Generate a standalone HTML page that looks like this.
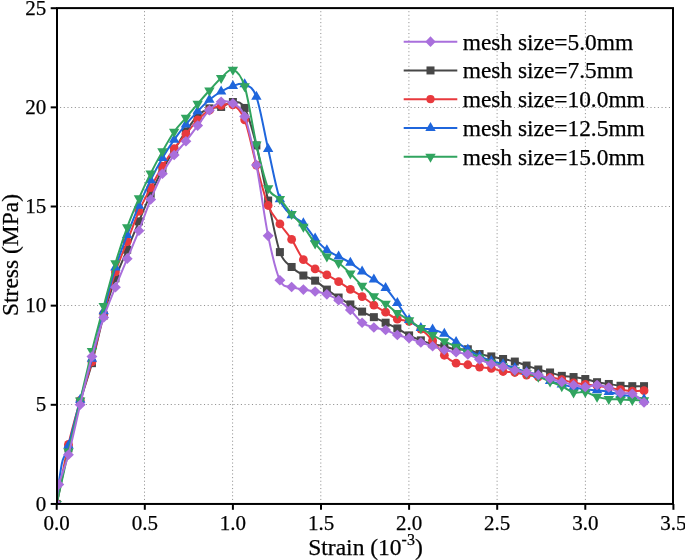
<!DOCTYPE html>
<html><head><meta charset="utf-8"><style>
html,body{margin:0;padding:0;background:#fff;}
svg{display:block;font-family:"Liberation Serif",serif;will-change:transform;}
text{stroke:#000;stroke-width:0.25px;}
</style></head><body>
<svg width="685" height="560" viewBox="0 0 685 560">
<defs><clipPath id="pa"><rect x="56.70" y="8.1" width="616.20" height="495.85"/></clipPath></defs>
<rect width="685" height="560" fill="#fff"/>
<g stroke="#939393" stroke-width="1" stroke-dasharray="1.1 2.55" fill="none">
<line x1="144.50" y1="500.00" x2="144.50" y2="9" stroke-dasharray="1.1 2.54"/>
<line x1="232.60" y1="500.00" x2="232.60" y2="9" stroke-dasharray="1.1 2.54"/>
<line x1="320.80" y1="500.00" x2="320.80" y2="9" stroke-dasharray="1.1 2.54"/>
<line x1="408.90" y1="500.00" x2="408.90" y2="9" stroke-dasharray="1.1 2.54"/>
<line x1="497.10" y1="500.00" x2="497.10" y2="9" stroke-dasharray="1.1 2.54"/>
<line x1="585.40" y1="500.00" x2="585.40" y2="9" stroke-dasharray="1.1 2.54"/>
<line x1="56.37" y1="107.50" x2="672" y2="107.50" stroke-dasharray="1.1 2.59"/>
<line x1="56.37" y1="206.50" x2="672" y2="206.50" stroke-dasharray="1.1 2.59"/>
<line x1="56.37" y1="305.50" x2="672" y2="305.50" stroke-dasharray="1.1 2.59"/>
<line x1="56.37" y1="404.50" x2="672" y2="404.50" stroke-dasharray="1.1 2.59"/>
</g>
<g fill="#000" font-size="23">
<line x1="403.7" y1="41.70" x2="457.3" y2="41.70" stroke="#a96fdc" stroke-width="2"/>
<path d="M430.50,36.35L435.70,41.70L430.50,47.05L425.30,41.70Z" fill="#a96fdc"/>
<text x="462.7" y="49.60" font-size="23.4">mesh size=5.0mm</text>
<line x1="403.7" y1="70.45" x2="457.3" y2="70.45" stroke="#474747" stroke-width="2"/>
<rect x="426.50" y="66.45" width="8.00" height="8.00" fill="#474747"/>
<text x="462.7" y="78.35" font-size="23.4">mesh size=7.5mm</text>
<line x1="403.7" y1="99.20" x2="457.3" y2="99.20" stroke="#e8393d" stroke-width="2"/>
<circle cx="430.50" cy="99.20" r="4.1" fill="#e8393d"/>
<text x="462.7" y="107.10" font-size="23.4">mesh size=10.0mm</text>
<line x1="403.7" y1="127.95" x2="457.3" y2="127.95" stroke="#1f66dc" stroke-width="2"/>
<path d="M430.50,121.95L435.70,130.95L425.30,130.95Z" fill="#1f66dc"/>
<text x="462.7" y="135.85" font-size="23.4">mesh size=12.5mm</text>
<line x1="403.7" y1="156.70" x2="457.3" y2="156.70" stroke="#31a45f" stroke-width="2"/>
<path d="M425.30,153.70L435.70,153.70L430.50,162.70Z" fill="#31a45f"/>
<text x="462.7" y="164.60" font-size="23.4">mesh size=15.0mm</text>
</g>
<g clip-path="url(#pa)">
<g>
<path d="M56.70,503.95 C58.66,494.70 64.53,465.45 68.45,448.43 C72.36,431.41 76.28,416.04 80.19,401.83 C84.11,387.61 88.02,377.53 91.94,363.16 C95.86,348.78 99.77,329.71 103.69,315.56 C107.60,301.42 111.52,289.26 115.43,278.28 C119.35,267.31 123.26,259.21 127.18,249.73 C131.10,240.24 135.01,230.69 138.93,221.37 C142.84,212.05 146.76,202.40 150.67,193.81 C154.59,185.22 158.50,177.12 162.42,169.81 C166.34,162.51 170.25,156.40 174.17,149.98 C178.08,143.57 182.00,137.06 185.91,131.34 C189.83,125.63 193.74,119.51 197.66,115.68 C201.58,111.84 205.49,109.80 209.41,108.34 C213.32,106.89 217.24,108.01 221.15,106.95 C225.07,105.90 228.98,101.83 232.90,102.00 C236.82,102.16 240.73,100.71 244.65,107.94 C248.56,115.18 252.48,129.99 256.39,145.42 C260.31,160.86 264.22,182.77 268.14,200.55 C272.06,218.33 275.97,241.04 279.89,252.11 C283.80,263.18 287.72,263.08 291.63,266.98 C295.55,270.88 299.46,273.23 303.38,275.51 C307.30,277.79 311.21,278.32 315.13,280.66 C319.04,283.01 322.96,286.78 326.87,289.59 C330.79,292.40 334.70,295.04 338.62,297.52 C342.54,300.00 346.45,302.11 350.37,304.46 C354.28,306.81 358.20,309.48 362.11,311.60 C366.03,313.71 369.94,315.30 373.86,317.15 C377.78,319.00 381.69,320.82 385.61,322.70 C389.52,324.59 393.44,326.34 397.35,328.45 C401.27,330.57 405.18,333.41 409.10,335.39 C413.02,337.38 416.93,338.90 420.85,340.35 C424.76,341.81 428.68,343.13 432.59,344.12 C436.51,345.11 440.42,345.38 444.34,346.30 C448.26,347.23 452.17,349.18 456.09,349.67 C460.00,350.17 463.92,348.55 467.83,349.28 C471.75,350.00 475.66,352.85 479.58,354.04 C483.50,355.23 487.41,355.59 491.33,356.41 C495.24,357.24 499.16,358.13 503.07,358.99 C506.99,359.85 510.90,360.48 514.82,361.57 C518.74,362.66 522.65,364.21 526.57,365.54 C530.48,366.86 534.40,368.35 538.31,369.50 C542.23,370.66 546.14,371.42 550.06,372.48 C553.98,373.53 557.89,375.09 561.81,375.85 C565.72,376.61 569.64,376.51 573.55,377.04 C577.47,377.57 581.38,378.16 585.30,379.02 C589.22,379.88 593.13,381.37 597.05,382.19 C600.96,383.02 604.88,383.38 608.79,383.98 C612.71,384.57 616.62,385.40 620.54,385.76 C624.46,386.13 628.37,386.09 632.29,386.16 C636.20,386.23 642.08,386.16 644.03,386.16" fill="none" stroke="#474747" stroke-width="2" stroke-linejoin="round"/>
<rect x="52.70" y="499.95" width="8.00" height="8.00" fill="#474747"/>
<rect x="64.45" y="444.43" width="8.00" height="8.00" fill="#474747"/>
<rect x="76.19" y="397.83" width="8.00" height="8.00" fill="#474747"/>
<rect x="87.94" y="359.16" width="8.00" height="8.00" fill="#474747"/>
<rect x="99.69" y="311.56" width="8.00" height="8.00" fill="#474747"/>
<rect x="111.43" y="274.28" width="8.00" height="8.00" fill="#474747"/>
<rect x="123.18" y="245.73" width="8.00" height="8.00" fill="#474747"/>
<rect x="134.93" y="217.37" width="8.00" height="8.00" fill="#474747"/>
<rect x="146.67" y="189.81" width="8.00" height="8.00" fill="#474747"/>
<rect x="158.42" y="165.81" width="8.00" height="8.00" fill="#474747"/>
<rect x="170.17" y="145.98" width="8.00" height="8.00" fill="#474747"/>
<rect x="181.91" y="127.34" width="8.00" height="8.00" fill="#474747"/>
<rect x="193.66" y="111.68" width="8.00" height="8.00" fill="#474747"/>
<rect x="205.41" y="104.34" width="8.00" height="8.00" fill="#474747"/>
<rect x="217.15" y="102.95" width="8.00" height="8.00" fill="#474747"/>
<rect x="228.90" y="98.00" width="8.00" height="8.00" fill="#474747"/>
<rect x="240.65" y="103.94" width="8.00" height="8.00" fill="#474747"/>
<rect x="252.39" y="141.42" width="8.00" height="8.00" fill="#474747"/>
<rect x="264.14" y="196.55" width="8.00" height="8.00" fill="#474747"/>
<rect x="275.89" y="248.11" width="8.00" height="8.00" fill="#474747"/>
<rect x="287.63" y="262.98" width="8.00" height="8.00" fill="#474747"/>
<rect x="299.38" y="271.51" width="8.00" height="8.00" fill="#474747"/>
<rect x="311.13" y="276.66" width="8.00" height="8.00" fill="#474747"/>
<rect x="322.87" y="285.59" width="8.00" height="8.00" fill="#474747"/>
<rect x="334.62" y="293.52" width="8.00" height="8.00" fill="#474747"/>
<rect x="346.37" y="300.46" width="8.00" height="8.00" fill="#474747"/>
<rect x="358.11" y="307.60" width="8.00" height="8.00" fill="#474747"/>
<rect x="369.86" y="313.15" width="8.00" height="8.00" fill="#474747"/>
<rect x="381.61" y="318.70" width="8.00" height="8.00" fill="#474747"/>
<rect x="393.35" y="324.45" width="8.00" height="8.00" fill="#474747"/>
<rect x="405.10" y="331.39" width="8.00" height="8.00" fill="#474747"/>
<rect x="416.85" y="336.35" width="8.00" height="8.00" fill="#474747"/>
<rect x="428.59" y="340.12" width="8.00" height="8.00" fill="#474747"/>
<rect x="440.34" y="342.30" width="8.00" height="8.00" fill="#474747"/>
<rect x="452.09" y="345.67" width="8.00" height="8.00" fill="#474747"/>
<rect x="463.83" y="345.28" width="8.00" height="8.00" fill="#474747"/>
<rect x="475.58" y="350.04" width="8.00" height="8.00" fill="#474747"/>
<rect x="487.33" y="352.41" width="8.00" height="8.00" fill="#474747"/>
<rect x="499.07" y="354.99" width="8.00" height="8.00" fill="#474747"/>
<rect x="510.82" y="357.57" width="8.00" height="8.00" fill="#474747"/>
<rect x="522.57" y="361.54" width="8.00" height="8.00" fill="#474747"/>
<rect x="534.31" y="365.50" width="8.00" height="8.00" fill="#474747"/>
<rect x="546.06" y="368.48" width="8.00" height="8.00" fill="#474747"/>
<rect x="557.81" y="371.85" width="8.00" height="8.00" fill="#474747"/>
<rect x="569.55" y="373.04" width="8.00" height="8.00" fill="#474747"/>
<rect x="581.30" y="375.02" width="8.00" height="8.00" fill="#474747"/>
<rect x="593.05" y="378.19" width="8.00" height="8.00" fill="#474747"/>
<rect x="604.79" y="379.98" width="8.00" height="8.00" fill="#474747"/>
<rect x="616.54" y="381.76" width="8.00" height="8.00" fill="#474747"/>
<rect x="628.29" y="382.16" width="8.00" height="8.00" fill="#474747"/>
<rect x="640.03" y="382.16" width="8.00" height="8.00" fill="#474747"/>
</g>
<g>
<path d="M56.70,503.95 C58.66,494.03 64.53,461.71 68.45,444.46 C72.36,427.21 76.28,414.22 80.19,400.44 C84.11,386.66 88.02,376.24 91.94,361.77 C95.86,347.29 99.77,328.55 103.69,313.58 C107.60,298.61 111.52,283.94 115.43,271.94 C119.35,259.94 123.26,251.71 127.18,241.60 C131.10,231.49 135.01,220.25 138.93,211.26 C142.84,202.27 146.76,195.16 150.67,187.66 C154.59,180.16 158.50,172.76 162.42,166.25 C166.34,159.73 170.25,153.95 174.17,148.60 C178.08,143.24 182.00,138.91 185.91,134.12 C189.83,129.33 193.74,123.84 197.66,119.84 C201.58,115.84 205.49,112.54 209.41,110.13 C213.32,107.71 217.24,106.23 221.15,105.37 C225.07,104.51 228.98,102.56 232.90,104.97 C236.82,107.38 240.73,109.83 244.65,119.84 C248.56,129.86 252.48,150.78 256.39,165.06 C260.31,179.33 264.22,195.69 268.14,205.51 C272.06,215.32 275.97,218.30 279.89,223.95 C283.80,229.60 287.72,233.47 291.63,239.42 C295.55,245.37 299.46,254.72 303.38,259.64 C307.30,264.57 311.21,266.42 315.13,268.96 C319.04,271.51 322.96,272.80 326.87,274.91 C330.79,277.03 334.70,279.24 338.62,281.66 C342.54,284.07 346.45,286.91 350.37,289.39 C354.28,291.87 358.20,293.92 362.11,296.53 C366.03,299.14 369.94,302.44 373.86,305.06 C377.78,307.67 381.69,309.85 385.61,312.19 C389.52,314.54 393.44,317.61 397.35,319.13 C401.27,320.65 405.18,319.66 409.10,321.32 C413.02,322.97 416.93,325.88 420.85,329.05 C424.76,332.22 428.68,335.99 432.59,340.35 C436.51,344.72 440.42,351.42 444.34,355.23 C448.26,359.03 452.17,361.57 456.09,363.16 C460.00,364.74 463.92,364.08 467.83,364.74 C471.75,365.40 475.66,366.53 479.58,367.12 C483.50,367.72 487.41,367.59 491.33,368.31 C495.24,369.04 499.16,370.79 503.07,371.49 C506.99,372.18 510.90,371.88 514.82,372.48 C518.74,373.07 522.65,374.33 526.57,375.06 C530.48,375.78 534.40,376.44 538.31,376.84 C542.23,377.24 546.14,376.97 550.06,377.43 C553.98,377.90 557.89,378.72 561.81,379.62 C565.72,380.51 569.64,382.00 573.55,382.79 C577.47,383.58 581.38,383.88 585.30,384.38 C589.22,384.87 593.13,385.20 597.05,385.76 C600.96,386.33 604.88,387.09 608.79,387.75 C612.71,388.41 616.62,389.17 620.54,389.73 C624.46,390.29 628.37,390.95 632.29,391.12 C636.20,391.28 642.08,390.79 644.03,390.72" fill="none" stroke="#e8393d" stroke-width="2" stroke-linejoin="round"/>
<circle cx="56.70" cy="503.95" r="4.4" fill="#e8393d"/>
<circle cx="68.45" cy="444.46" r="4.4" fill="#e8393d"/>
<circle cx="80.19" cy="400.44" r="4.4" fill="#e8393d"/>
<circle cx="91.94" cy="361.77" r="4.4" fill="#e8393d"/>
<circle cx="103.69" cy="313.58" r="4.4" fill="#e8393d"/>
<circle cx="115.43" cy="271.94" r="4.4" fill="#e8393d"/>
<circle cx="127.18" cy="241.60" r="4.4" fill="#e8393d"/>
<circle cx="138.93" cy="211.26" r="4.4" fill="#e8393d"/>
<circle cx="150.67" cy="187.66" r="4.4" fill="#e8393d"/>
<circle cx="162.42" cy="166.25" r="4.4" fill="#e8393d"/>
<circle cx="174.17" cy="148.60" r="4.4" fill="#e8393d"/>
<circle cx="185.91" cy="134.12" r="4.4" fill="#e8393d"/>
<circle cx="197.66" cy="119.84" r="4.4" fill="#e8393d"/>
<circle cx="209.41" cy="110.13" r="4.4" fill="#e8393d"/>
<circle cx="221.15" cy="105.37" r="4.4" fill="#e8393d"/>
<circle cx="232.90" cy="104.97" r="4.4" fill="#e8393d"/>
<circle cx="244.65" cy="119.84" r="4.4" fill="#e8393d"/>
<circle cx="256.39" cy="165.06" r="4.4" fill="#e8393d"/>
<circle cx="268.14" cy="205.51" r="4.4" fill="#e8393d"/>
<circle cx="279.89" cy="223.95" r="4.4" fill="#e8393d"/>
<circle cx="291.63" cy="239.42" r="4.4" fill="#e8393d"/>
<circle cx="303.38" cy="259.64" r="4.4" fill="#e8393d"/>
<circle cx="315.13" cy="268.96" r="4.4" fill="#e8393d"/>
<circle cx="326.87" cy="274.91" r="4.4" fill="#e8393d"/>
<circle cx="338.62" cy="281.66" r="4.4" fill="#e8393d"/>
<circle cx="350.37" cy="289.39" r="4.4" fill="#e8393d"/>
<circle cx="362.11" cy="296.53" r="4.4" fill="#e8393d"/>
<circle cx="373.86" cy="305.06" r="4.4" fill="#e8393d"/>
<circle cx="385.61" cy="312.19" r="4.4" fill="#e8393d"/>
<circle cx="397.35" cy="319.13" r="4.4" fill="#e8393d"/>
<circle cx="409.10" cy="321.32" r="4.4" fill="#e8393d"/>
<circle cx="420.85" cy="329.05" r="4.4" fill="#e8393d"/>
<circle cx="432.59" cy="340.35" r="4.4" fill="#e8393d"/>
<circle cx="444.34" cy="355.23" r="4.4" fill="#e8393d"/>
<circle cx="456.09" cy="363.16" r="4.4" fill="#e8393d"/>
<circle cx="467.83" cy="364.74" r="4.4" fill="#e8393d"/>
<circle cx="479.58" cy="367.12" r="4.4" fill="#e8393d"/>
<circle cx="491.33" cy="368.31" r="4.4" fill="#e8393d"/>
<circle cx="503.07" cy="371.49" r="4.4" fill="#e8393d"/>
<circle cx="514.82" cy="372.48" r="4.4" fill="#e8393d"/>
<circle cx="526.57" cy="375.06" r="4.4" fill="#e8393d"/>
<circle cx="538.31" cy="376.84" r="4.4" fill="#e8393d"/>
<circle cx="550.06" cy="377.43" r="4.4" fill="#e8393d"/>
<circle cx="561.81" cy="379.62" r="4.4" fill="#e8393d"/>
<circle cx="573.55" cy="382.79" r="4.4" fill="#e8393d"/>
<circle cx="585.30" cy="384.38" r="4.4" fill="#e8393d"/>
<circle cx="597.05" cy="385.76" r="4.4" fill="#e8393d"/>
<circle cx="608.79" cy="387.75" r="4.4" fill="#e8393d"/>
<circle cx="620.54" cy="389.73" r="4.4" fill="#e8393d"/>
<circle cx="632.29" cy="391.12" r="4.4" fill="#e8393d"/>
<circle cx="644.03" cy="390.72" r="4.4" fill="#e8393d"/>
</g>
<g>
<path d="M56.70,503.95 C56.96,501.14 57.67,492.38 58.29,487.09 C58.90,481.81 59.67,476.68 60.40,472.22 C61.13,467.76 61.35,464.79 62.69,460.32 C64.03,455.86 65.53,455.53 68.45,445.45 C71.36,435.37 76.28,414.29 80.19,399.84 C84.11,385.40 88.02,373.57 91.94,358.79 C95.86,344.02 99.77,326.41 103.69,311.20 C107.60,296.00 111.52,280.27 115.43,267.58 C119.35,254.89 123.26,245.37 127.18,235.06 C131.10,224.74 135.01,214.86 138.93,205.71 C142.84,196.55 146.76,188.06 150.67,180.13 C154.59,172.19 158.50,164.86 162.42,158.11 C166.34,151.37 170.25,145.29 174.17,139.67 C178.08,134.05 182.00,129.13 185.91,124.40 C189.83,119.68 193.74,115.41 197.66,111.32 C201.58,107.22 205.49,103.12 209.41,99.81 C213.32,96.51 217.24,93.80 221.15,91.49 C225.07,89.17 228.98,87.12 232.90,85.93 C236.82,84.74 240.73,82.53 244.65,84.35 C248.56,86.16 252.48,86.07 256.39,96.84 C260.31,107.61 264.22,131.94 268.14,148.99 C272.06,166.05 275.97,188.12 279.89,199.16 C283.80,210.20 287.72,211.19 291.63,215.23 C295.55,219.26 299.46,219.46 303.38,223.36 C307.30,227.26 311.21,234.16 315.13,238.62 C319.04,243.09 322.96,247.15 326.87,250.13 C330.79,253.10 334.70,254.36 338.62,256.47 C342.54,258.59 346.45,260.31 350.37,262.82 C354.28,265.33 358.20,268.77 362.11,271.54 C366.03,274.32 369.94,276.73 373.86,279.47 C377.78,282.22 381.69,284.07 385.61,288.00 C389.52,291.93 393.44,297.75 397.35,303.07 C401.27,308.39 405.18,315.76 409.10,319.93 C413.02,324.09 416.93,326.47 420.85,328.06 C424.76,329.64 428.68,328.49 432.59,329.45 C436.51,330.40 440.42,331.73 444.34,333.81 C448.26,335.89 452.17,339.33 456.09,341.94 C460.00,344.55 463.92,347.09 467.83,349.47 C471.75,351.85 475.66,354.30 479.58,356.22 C483.50,358.13 487.41,359.65 491.33,360.98 C495.24,362.30 499.16,362.96 503.07,364.15 C506.99,365.34 510.90,366.83 514.82,368.11 C518.74,369.40 522.65,370.73 526.57,371.88 C530.48,373.04 534.40,373.53 538.31,375.06 C542.23,376.58 546.14,379.45 550.06,381.00 C553.98,382.56 557.89,383.35 561.81,384.38 C565.72,385.40 569.64,386.33 573.55,387.15 C577.47,387.98 581.38,388.80 585.30,389.33 C589.22,389.86 593.13,389.89 597.05,390.32 C600.96,390.75 604.88,391.18 608.79,391.91 C612.71,392.64 616.62,393.96 620.54,394.69 C624.46,395.41 628.37,395.51 632.29,396.27 C636.20,397.03 642.08,398.75 644.03,399.25" fill="none" stroke="#1f66dc" stroke-width="2" stroke-linejoin="round"/>
<path d="M56.70,497.95L61.90,506.95L51.50,506.95Z" fill="#1f66dc"/>
<path d="M68.45,439.45L73.65,448.45L63.25,448.45Z" fill="#1f66dc"/>
<path d="M80.19,393.84L85.39,402.84L74.99,402.84Z" fill="#1f66dc"/>
<path d="M91.94,352.79L97.14,361.79L86.74,361.79Z" fill="#1f66dc"/>
<path d="M103.69,305.20L108.89,314.20L98.49,314.20Z" fill="#1f66dc"/>
<path d="M115.43,261.58L120.63,270.58L110.23,270.58Z" fill="#1f66dc"/>
<path d="M127.18,229.06L132.38,238.06L121.98,238.06Z" fill="#1f66dc"/>
<path d="M138.93,199.71L144.13,208.71L133.73,208.71Z" fill="#1f66dc"/>
<path d="M150.67,174.13L155.87,183.13L145.47,183.13Z" fill="#1f66dc"/>
<path d="M162.42,152.11L167.62,161.11L157.22,161.11Z" fill="#1f66dc"/>
<path d="M174.17,133.67L179.37,142.67L168.97,142.67Z" fill="#1f66dc"/>
<path d="M185.91,118.40L191.11,127.40L180.71,127.40Z" fill="#1f66dc"/>
<path d="M197.66,105.32L202.86,114.32L192.46,114.32Z" fill="#1f66dc"/>
<path d="M209.41,93.81L214.61,102.81L204.21,102.81Z" fill="#1f66dc"/>
<path d="M221.15,85.49L226.35,94.49L215.95,94.49Z" fill="#1f66dc"/>
<path d="M232.90,79.93L238.10,88.93L227.70,88.93Z" fill="#1f66dc"/>
<path d="M244.65,78.35L249.85,87.35L239.45,87.35Z" fill="#1f66dc"/>
<path d="M256.39,90.84L261.59,99.84L251.19,99.84Z" fill="#1f66dc"/>
<path d="M268.14,142.99L273.34,151.99L262.94,151.99Z" fill="#1f66dc"/>
<path d="M279.89,193.16L285.09,202.16L274.69,202.16Z" fill="#1f66dc"/>
<path d="M291.63,209.23L296.83,218.23L286.43,218.23Z" fill="#1f66dc"/>
<path d="M303.38,217.36L308.58,226.36L298.18,226.36Z" fill="#1f66dc"/>
<path d="M315.13,232.62L320.33,241.62L309.93,241.62Z" fill="#1f66dc"/>
<path d="M326.87,244.13L332.07,253.13L321.67,253.13Z" fill="#1f66dc"/>
<path d="M338.62,250.47L343.82,259.47L333.42,259.47Z" fill="#1f66dc"/>
<path d="M350.37,256.82L355.57,265.82L345.17,265.82Z" fill="#1f66dc"/>
<path d="M362.11,265.54L367.31,274.54L356.91,274.54Z" fill="#1f66dc"/>
<path d="M373.86,273.47L379.06,282.47L368.66,282.47Z" fill="#1f66dc"/>
<path d="M385.61,282.00L390.81,291.00L380.41,291.00Z" fill="#1f66dc"/>
<path d="M397.35,297.07L402.55,306.07L392.15,306.07Z" fill="#1f66dc"/>
<path d="M409.10,313.93L414.30,322.93L403.90,322.93Z" fill="#1f66dc"/>
<path d="M420.85,322.06L426.05,331.06L415.65,331.06Z" fill="#1f66dc"/>
<path d="M432.59,323.45L437.79,332.45L427.39,332.45Z" fill="#1f66dc"/>
<path d="M444.34,327.81L449.54,336.81L439.14,336.81Z" fill="#1f66dc"/>
<path d="M456.09,335.94L461.29,344.94L450.89,344.94Z" fill="#1f66dc"/>
<path d="M467.83,343.47L473.03,352.47L462.63,352.47Z" fill="#1f66dc"/>
<path d="M479.58,350.22L484.78,359.22L474.38,359.22Z" fill="#1f66dc"/>
<path d="M491.33,354.98L496.53,363.98L486.13,363.98Z" fill="#1f66dc"/>
<path d="M503.07,358.15L508.27,367.15L497.87,367.15Z" fill="#1f66dc"/>
<path d="M514.82,362.11L520.02,371.11L509.62,371.11Z" fill="#1f66dc"/>
<path d="M526.57,365.88L531.77,374.88L521.37,374.88Z" fill="#1f66dc"/>
<path d="M538.31,369.06L543.51,378.06L533.11,378.06Z" fill="#1f66dc"/>
<path d="M550.06,375.00L555.26,384.00L544.86,384.00Z" fill="#1f66dc"/>
<path d="M561.81,378.38L567.01,387.38L556.61,387.38Z" fill="#1f66dc"/>
<path d="M573.55,381.15L578.75,390.15L568.35,390.15Z" fill="#1f66dc"/>
<path d="M585.30,383.33L590.50,392.33L580.10,392.33Z" fill="#1f66dc"/>
<path d="M597.05,384.32L602.25,393.32L591.85,393.32Z" fill="#1f66dc"/>
<path d="M608.79,385.91L613.99,394.91L603.59,394.91Z" fill="#1f66dc"/>
<path d="M620.54,388.69L625.74,397.69L615.34,397.69Z" fill="#1f66dc"/>
<path d="M632.29,390.27L637.49,399.27L627.09,399.27Z" fill="#1f66dc"/>
<path d="M644.03,393.25L649.23,402.25L638.83,402.25Z" fill="#1f66dc"/>
</g>
<g>
<path d="M56.70,503.95 C58.66,495.19 64.53,468.65 68.45,451.40 C72.36,434.15 76.28,417.16 80.19,400.44 C84.11,383.71 88.02,366.79 91.94,351.06 C95.86,335.33 99.77,320.69 103.69,306.05 C107.60,291.41 111.52,276.33 115.43,263.21 C119.35,250.09 123.26,238.13 127.18,227.32 C131.10,216.51 135.01,207.36 138.93,198.37 C142.84,189.38 146.76,181.22 150.67,173.38 C154.59,165.55 158.50,158.31 162.42,151.37 C166.34,144.43 170.25,137.33 174.17,131.74 C178.08,126.16 182.00,122.52 185.91,117.86 C189.83,113.20 193.74,108.34 197.66,103.78 C201.58,99.22 205.49,94.79 209.41,90.49 C213.32,86.20 217.24,81.47 221.15,78.00 C225.07,74.53 228.98,68.28 232.90,69.67 C236.82,71.06 240.73,73.87 244.65,86.33 C248.56,98.79 252.48,127.44 256.39,144.43 C260.31,161.42 264.22,179.17 268.14,188.26 C272.06,197.35 275.97,194.67 279.89,198.96 C283.80,203.26 287.72,209.41 291.63,214.04 C295.55,218.66 299.46,221.84 303.38,226.73 C307.30,231.62 311.21,238.43 315.13,243.38 C319.04,248.34 322.96,253.20 326.87,256.47 C330.79,259.74 334.70,260.17 338.62,263.02 C342.54,265.86 346.45,269.72 350.37,273.53 C354.28,277.33 358.20,282.05 362.11,285.82 C366.03,289.59 369.94,293.16 373.86,296.13 C377.78,299.11 381.69,300.86 385.61,303.67 C389.52,306.48 393.44,310.24 397.35,312.99 C401.27,315.73 405.18,317.61 409.10,320.13 C413.02,322.64 416.93,325.58 420.85,328.06 C424.76,330.54 428.68,332.78 432.59,335.00 C436.51,337.21 440.42,339.39 444.34,341.34 C448.26,343.29 452.17,344.85 456.09,346.70 C460.00,348.55 463.92,350.63 467.83,352.45 C471.75,354.27 475.66,355.89 479.58,357.60 C483.50,359.32 487.41,361.27 491.33,362.76 C495.24,364.25 499.16,365.27 503.07,366.53 C506.99,367.78 510.90,369.17 514.82,370.30 C518.74,371.42 522.65,372.21 526.57,373.27 C530.48,374.33 534.40,375.29 538.31,376.64 C542.23,378.00 546.14,379.81 550.06,381.40 C553.98,382.99 557.89,384.31 561.81,386.16 C565.72,388.01 569.64,391.51 573.55,392.51 C577.47,393.50 581.38,391.38 585.30,392.11 C589.22,392.84 593.13,395.71 597.05,396.87 C600.96,398.02 604.88,398.62 608.79,399.05 C612.71,399.48 616.62,399.28 620.54,399.45 C624.46,399.61 628.37,399.91 632.29,400.04 C636.20,400.17 642.08,400.21 644.03,400.24" fill="none" stroke="#31a45f" stroke-width="2" stroke-linejoin="round"/>
<path d="M51.50,500.95L61.90,500.95L56.70,509.95Z" fill="#31a45f"/>
<path d="M63.25,448.40L73.65,448.40L68.45,457.40Z" fill="#31a45f"/>
<path d="M74.99,397.44L85.39,397.44L80.19,406.44Z" fill="#31a45f"/>
<path d="M86.74,348.06L97.14,348.06L91.94,357.06Z" fill="#31a45f"/>
<path d="M98.49,303.05L108.89,303.05L103.69,312.05Z" fill="#31a45f"/>
<path d="M110.23,260.21L120.63,260.21L115.43,269.21Z" fill="#31a45f"/>
<path d="M121.98,224.32L132.38,224.32L127.18,233.32Z" fill="#31a45f"/>
<path d="M133.73,195.37L144.13,195.37L138.93,204.37Z" fill="#31a45f"/>
<path d="M145.47,170.38L155.87,170.38L150.67,179.38Z" fill="#31a45f"/>
<path d="M157.22,148.37L167.62,148.37L162.42,157.37Z" fill="#31a45f"/>
<path d="M168.97,128.74L179.37,128.74L174.17,137.74Z" fill="#31a45f"/>
<path d="M180.71,114.86L191.11,114.86L185.91,123.86Z" fill="#31a45f"/>
<path d="M192.46,100.78L202.86,100.78L197.66,109.78Z" fill="#31a45f"/>
<path d="M204.21,87.49L214.61,87.49L209.41,96.49Z" fill="#31a45f"/>
<path d="M215.95,75.00L226.35,75.00L221.15,84.00Z" fill="#31a45f"/>
<path d="M227.70,66.67L238.10,66.67L232.90,75.67Z" fill="#31a45f"/>
<path d="M239.45,83.33L249.85,83.33L244.65,92.33Z" fill="#31a45f"/>
<path d="M251.19,141.43L261.59,141.43L256.39,150.43Z" fill="#31a45f"/>
<path d="M262.94,185.26L273.34,185.26L268.14,194.26Z" fill="#31a45f"/>
<path d="M274.69,195.96L285.09,195.96L279.89,204.96Z" fill="#31a45f"/>
<path d="M286.43,211.04L296.83,211.04L291.63,220.04Z" fill="#31a45f"/>
<path d="M298.18,223.73L308.58,223.73L303.38,232.73Z" fill="#31a45f"/>
<path d="M309.93,240.38L320.33,240.38L315.13,249.38Z" fill="#31a45f"/>
<path d="M321.67,253.47L332.07,253.47L326.87,262.47Z" fill="#31a45f"/>
<path d="M333.42,260.02L343.82,260.02L338.62,269.02Z" fill="#31a45f"/>
<path d="M345.17,270.53L355.57,270.53L350.37,279.53Z" fill="#31a45f"/>
<path d="M356.91,282.82L367.31,282.82L362.11,291.82Z" fill="#31a45f"/>
<path d="M368.66,293.13L379.06,293.13L373.86,302.13Z" fill="#31a45f"/>
<path d="M380.41,300.67L390.81,300.67L385.61,309.67Z" fill="#31a45f"/>
<path d="M392.15,309.99L402.55,309.99L397.35,318.99Z" fill="#31a45f"/>
<path d="M403.90,317.13L414.30,317.13L409.10,326.13Z" fill="#31a45f"/>
<path d="M415.65,325.06L426.05,325.06L420.85,334.06Z" fill="#31a45f"/>
<path d="M427.39,332.00L437.79,332.00L432.59,341.00Z" fill="#31a45f"/>
<path d="M439.14,338.34L449.54,338.34L444.34,347.34Z" fill="#31a45f"/>
<path d="M450.89,343.70L461.29,343.70L456.09,352.70Z" fill="#31a45f"/>
<path d="M462.63,349.45L473.03,349.45L467.83,358.45Z" fill="#31a45f"/>
<path d="M474.38,354.60L484.78,354.60L479.58,363.60Z" fill="#31a45f"/>
<path d="M486.13,359.76L496.53,359.76L491.33,368.76Z" fill="#31a45f"/>
<path d="M497.87,363.53L508.27,363.53L503.07,372.53Z" fill="#31a45f"/>
<path d="M509.62,367.30L520.02,367.30L514.82,376.30Z" fill="#31a45f"/>
<path d="M521.37,370.27L531.77,370.27L526.57,379.27Z" fill="#31a45f"/>
<path d="M533.11,373.64L543.51,373.64L538.31,382.64Z" fill="#31a45f"/>
<path d="M544.86,378.40L555.26,378.40L550.06,387.40Z" fill="#31a45f"/>
<path d="M556.61,383.16L567.01,383.16L561.81,392.16Z" fill="#31a45f"/>
<path d="M568.35,389.51L578.75,389.51L573.55,398.51Z" fill="#31a45f"/>
<path d="M580.10,389.11L590.50,389.11L585.30,398.11Z" fill="#31a45f"/>
<path d="M591.85,393.87L602.25,393.87L597.05,402.87Z" fill="#31a45f"/>
<path d="M603.59,396.05L613.99,396.05L608.79,405.05Z" fill="#31a45f"/>
<path d="M615.34,396.45L625.74,396.45L620.54,405.45Z" fill="#31a45f"/>
<path d="M627.09,397.04L637.49,397.04L632.29,406.04Z" fill="#31a45f"/>
<path d="M638.83,397.24L649.23,397.24L644.03,406.24Z" fill="#31a45f"/>
</g>
<g>
<path d="M56.70,503.95 C57.05,500.71 56.86,492.71 58.81,484.52 C60.77,476.32 64.88,468.06 68.45,454.77 C72.01,441.49 76.28,421.16 80.19,404.80 C84.11,388.44 88.02,371.16 91.94,356.61 C95.86,342.07 99.77,329.12 103.69,317.55 C107.60,305.98 111.52,297.02 115.43,287.21 C119.35,277.39 123.26,268.07 127.18,258.65 C131.10,249.23 135.01,240.54 138.93,230.69 C142.84,220.84 146.76,209.04 150.67,199.56 C154.59,190.07 158.50,181.22 162.42,173.78 C166.34,166.34 170.25,160.36 174.17,154.94 C178.08,149.52 182.00,146.15 185.91,141.26 C189.83,136.37 193.74,130.78 197.66,125.59 C201.58,120.40 205.49,114.09 209.41,110.13 C213.32,106.16 217.24,102.92 221.15,101.80 C225.07,100.67 228.98,100.94 232.90,103.38 C236.82,105.83 240.73,106.19 244.65,116.47 C248.56,126.75 252.48,145.16 256.39,165.06 C260.31,184.95 264.22,216.65 268.14,235.85 C272.06,255.05 275.97,271.74 279.89,280.27 C283.80,288.79 287.72,285.46 291.63,287.01 C295.55,288.56 299.46,288.83 303.38,289.59 C307.30,290.35 311.21,290.78 315.13,291.57 C319.04,292.36 322.96,292.89 326.87,294.35 C330.79,295.80 334.70,297.68 338.62,300.30 C342.54,302.91 346.45,306.28 350.37,310.01 C354.28,313.75 358.20,319.80 362.11,322.70 C366.03,325.61 369.94,326.24 373.86,327.46 C377.78,328.69 381.69,328.79 385.61,330.04 C389.52,331.30 393.44,333.64 397.35,335.00 C401.27,336.35 405.18,336.92 409.10,338.17 C413.02,339.43 416.93,341.18 420.85,342.53 C424.76,343.89 428.68,345.05 432.59,346.30 C436.51,347.56 440.42,349.08 444.34,350.07 C448.26,351.06 452.17,351.52 456.09,352.25 C460.00,352.98 463.92,353.24 467.83,354.43 C471.75,355.62 475.66,357.80 479.58,359.39 C483.50,360.98 487.41,362.73 491.33,363.95 C495.24,365.17 499.16,365.67 503.07,366.73 C506.99,367.78 510.90,369.34 514.82,370.30 C518.74,371.25 522.65,371.68 526.57,372.48 C530.48,373.27 534.40,374.03 538.31,375.06 C542.23,376.08 546.14,377.47 550.06,378.62 C553.98,379.78 557.89,380.94 561.81,382.00 C565.72,383.05 569.64,384.14 573.55,384.97 C577.47,385.80 581.38,386.95 585.30,386.95 C589.22,386.95 593.13,384.87 597.05,384.97 C600.96,385.07 604.88,386.19 608.79,387.55 C612.71,388.90 616.62,392.08 620.54,393.10 C624.46,394.12 628.37,392.14 632.29,393.70 C636.20,395.25 642.08,400.97 644.03,402.42" fill="none" stroke="#a96fdc" stroke-width="2" stroke-linejoin="round"/>
<path d="M56.70,498.65L62.15,503.95L56.70,509.25L51.25,503.95Z" fill="#a96fdc"/>
<path d="M58.81,479.22L64.26,484.52L58.81,489.82L53.36,484.52Z" fill="#a96fdc"/>
<path d="M68.45,449.47L73.90,454.77L68.45,460.07L63.00,454.77Z" fill="#a96fdc"/>
<path d="M80.19,399.50L85.64,404.80L80.19,410.10L74.74,404.80Z" fill="#a96fdc"/>
<path d="M91.94,351.31L97.39,356.61L91.94,361.91L86.49,356.61Z" fill="#a96fdc"/>
<path d="M103.69,312.25L109.14,317.55L103.69,322.85L98.24,317.55Z" fill="#a96fdc"/>
<path d="M115.43,281.91L120.88,287.21L115.43,292.51L109.98,287.21Z" fill="#a96fdc"/>
<path d="M127.18,253.35L132.63,258.65L127.18,263.95L121.73,258.65Z" fill="#a96fdc"/>
<path d="M138.93,225.39L144.38,230.69L138.93,235.99L133.48,230.69Z" fill="#a96fdc"/>
<path d="M150.67,194.26L156.12,199.56L150.67,204.86L145.22,199.56Z" fill="#a96fdc"/>
<path d="M162.42,168.48L167.87,173.78L162.42,179.08L156.97,173.78Z" fill="#a96fdc"/>
<path d="M174.17,149.64L179.62,154.94L174.17,160.24L168.72,154.94Z" fill="#a96fdc"/>
<path d="M185.91,135.96L191.36,141.26L185.91,146.56L180.46,141.26Z" fill="#a96fdc"/>
<path d="M197.66,120.29L203.11,125.59L197.66,130.89L192.21,125.59Z" fill="#a96fdc"/>
<path d="M209.41,104.83L214.86,110.13L209.41,115.43L203.96,110.13Z" fill="#a96fdc"/>
<path d="M221.15,96.50L226.60,101.80L221.15,107.10L215.70,101.80Z" fill="#a96fdc"/>
<path d="M232.90,98.08L238.35,103.38L232.90,108.68L227.45,103.38Z" fill="#a96fdc"/>
<path d="M244.65,111.17L250.10,116.47L244.65,121.77L239.20,116.47Z" fill="#a96fdc"/>
<path d="M256.39,159.76L261.84,165.06L256.39,170.36L250.94,165.06Z" fill="#a96fdc"/>
<path d="M268.14,230.55L273.59,235.85L268.14,241.15L262.69,235.85Z" fill="#a96fdc"/>
<path d="M279.89,274.97L285.34,280.27L279.89,285.57L274.44,280.27Z" fill="#a96fdc"/>
<path d="M291.63,281.71L297.08,287.01L291.63,292.31L286.18,287.01Z" fill="#a96fdc"/>
<path d="M303.38,284.29L308.83,289.59L303.38,294.89L297.93,289.59Z" fill="#a96fdc"/>
<path d="M315.13,286.27L320.58,291.57L315.13,296.87L309.68,291.57Z" fill="#a96fdc"/>
<path d="M326.87,289.05L332.32,294.35L326.87,299.65L321.42,294.35Z" fill="#a96fdc"/>
<path d="M338.62,295.00L344.07,300.30L338.62,305.60L333.17,300.30Z" fill="#a96fdc"/>
<path d="M350.37,304.71L355.82,310.01L350.37,315.31L344.92,310.01Z" fill="#a96fdc"/>
<path d="M362.11,317.40L367.56,322.70L362.11,328.00L356.66,322.70Z" fill="#a96fdc"/>
<path d="M373.86,322.16L379.31,327.46L373.86,332.76L368.41,327.46Z" fill="#a96fdc"/>
<path d="M385.61,324.74L391.06,330.04L385.61,335.34L380.16,330.04Z" fill="#a96fdc"/>
<path d="M397.35,329.70L402.80,335.00L397.35,340.30L391.90,335.00Z" fill="#a96fdc"/>
<path d="M409.10,332.87L414.55,338.17L409.10,343.47L403.65,338.17Z" fill="#a96fdc"/>
<path d="M420.85,337.23L426.30,342.53L420.85,347.83L415.40,342.53Z" fill="#a96fdc"/>
<path d="M432.59,341.00L438.04,346.30L432.59,351.60L427.14,346.30Z" fill="#a96fdc"/>
<path d="M444.34,344.77L449.79,350.07L444.34,355.37L438.89,350.07Z" fill="#a96fdc"/>
<path d="M456.09,346.95L461.54,352.25L456.09,357.55L450.64,352.25Z" fill="#a96fdc"/>
<path d="M467.83,349.13L473.28,354.43L467.83,359.73L462.38,354.43Z" fill="#a96fdc"/>
<path d="M479.58,354.09L485.03,359.39L479.58,364.69L474.13,359.39Z" fill="#a96fdc"/>
<path d="M491.33,358.65L496.78,363.95L491.33,369.25L485.88,363.95Z" fill="#a96fdc"/>
<path d="M503.07,361.43L508.52,366.73L503.07,372.03L497.62,366.73Z" fill="#a96fdc"/>
<path d="M514.82,365.00L520.27,370.30L514.82,375.60L509.37,370.30Z" fill="#a96fdc"/>
<path d="M526.57,367.18L532.02,372.48L526.57,377.78L521.12,372.48Z" fill="#a96fdc"/>
<path d="M538.31,369.75L543.76,375.06L538.31,380.36L532.86,375.06Z" fill="#a96fdc"/>
<path d="M550.06,373.32L555.51,378.62L550.06,383.92L544.61,378.62Z" fill="#a96fdc"/>
<path d="M561.81,376.70L567.26,382.00L561.81,387.30L556.36,382.00Z" fill="#a96fdc"/>
<path d="M573.55,379.67L579.00,384.97L573.55,390.27L568.10,384.97Z" fill="#a96fdc"/>
<path d="M585.30,381.65L590.75,386.95L585.30,392.25L579.85,386.95Z" fill="#a96fdc"/>
<path d="M597.05,379.67L602.50,384.97L597.05,390.27L591.60,384.97Z" fill="#a96fdc"/>
<path d="M608.79,382.25L614.24,387.55L608.79,392.85L603.34,387.55Z" fill="#a96fdc"/>
<path d="M620.54,387.80L625.99,393.10L620.54,398.40L615.09,393.10Z" fill="#a96fdc"/>
<path d="M632.29,388.40L637.74,393.70L632.29,399.00L626.84,393.70Z" fill="#a96fdc"/>
<path d="M644.03,397.12L649.48,402.42L644.03,407.72L638.58,402.42Z" fill="#a96fdc"/>
</g>
</g>
<rect x="57" y="8.1" width="616" height="495.85" fill="none" stroke="#000" stroke-width="2"/>
<g stroke="#000" stroke-width="2">
<line x1="56.70" y1="503.95" x2="56.70" y2="509.8"/>
<line x1="144.80" y1="503.95" x2="144.80" y2="509.8"/>
<line x1="232.90" y1="503.95" x2="232.90" y2="509.8"/>
<line x1="321.00" y1="503.95" x2="321.00" y2="509.8"/>
<line x1="409.10" y1="503.95" x2="409.10" y2="509.8"/>
<line x1="497.20" y1="503.95" x2="497.20" y2="509.8"/>
<line x1="585.30" y1="503.95" x2="585.30" y2="509.8"/>
<line x1="673.40" y1="503.95" x2="673.40" y2="509.8"/>
<line x1="50.7" y1="503.95" x2="56.70" y2="503.95"/>
<line x1="50.7" y1="404.80" x2="56.70" y2="404.80"/>
<line x1="50.7" y1="305.65" x2="56.70" y2="305.65"/>
<line x1="50.7" y1="206.50" x2="56.70" y2="206.50"/>
<line x1="50.7" y1="107.35" x2="56.70" y2="107.35"/>
<line x1="50.7" y1="8.20" x2="56.70" y2="8.20"/>
</g>
<g font-size="21" fill="#000">
<text x="56.70" y="530" text-anchor="middle">0.0</text>
<text x="144.80" y="530" text-anchor="middle">0.5</text>
<text x="232.90" y="530" text-anchor="middle">1.0</text>
<text x="321.00" y="530" text-anchor="middle">1.5</text>
<text x="409.10" y="530" text-anchor="middle">2.0</text>
<text x="497.20" y="530" text-anchor="middle">2.5</text>
<text x="585.30" y="530" text-anchor="middle">3.0</text>
<text x="673.40" y="530" text-anchor="middle">3.5</text>
<text x="46.3" y="510.55" text-anchor="end">0</text>
<text x="46.3" y="411.40" text-anchor="end">5</text>
<text x="46.3" y="312.25" text-anchor="end">10</text>
<text x="46.3" y="213.10" text-anchor="end">15</text>
<text x="46.3" y="113.95" text-anchor="end">20</text>
<text x="46.3" y="14.80" text-anchor="end">25</text>
</g>
<text x="365.5" y="554.7" font-size="23.5" text-anchor="middle">Strain (10<tspan font-size="16" dy="-9.5">-3</tspan><tspan dy="9.5">)</tspan></text>
<text transform="translate(18.3,255) rotate(-90)" font-size="23.5" text-anchor="middle">Stress (MPa)</text>
</svg>
</body></html>
